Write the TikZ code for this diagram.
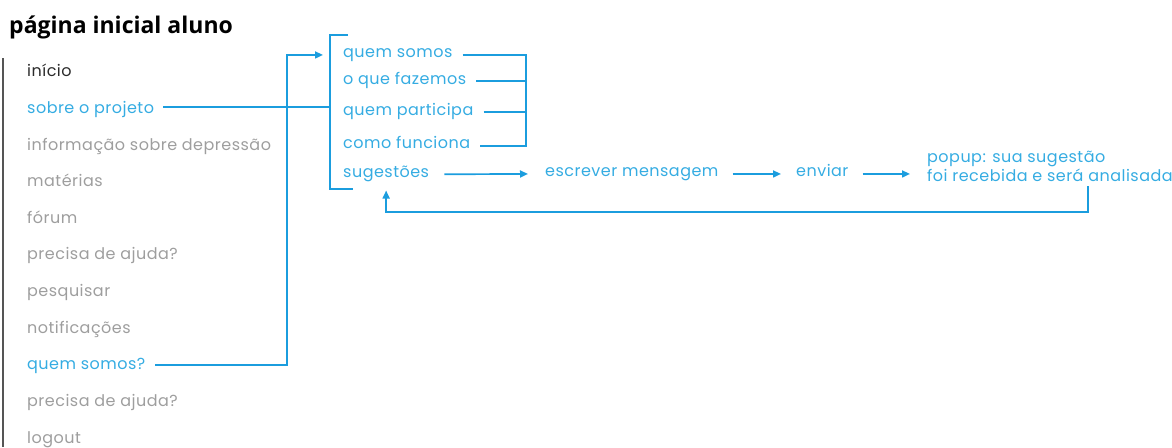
\documentclass[tikz,border=0pt]{standalone}
\usepackage{fontspec}
\setmainfont{Poppins}[LetterSpace=3]
\newfontfamily\titlefont{Open Sans}
\usetikzlibrary{arrows.meta,calc}
\definecolor{textblue}{HTML}{35ACE2}
\definecolor{lineblue}{HTML}{1B9DDE}
\definecolor{menugray}{HTML}{9E9E9E}
\definecolor{menudark}{HTML}{2B2B2B}
\definecolor{railgray}{HTML}{555555}

\begin{document}
\begin{tikzpicture}[x=1pt,y=-1pt,
  label/.style={anchor=base west,inner sep=0pt,font=\fontsize{16}{19}\selectfont},
  idle/.style={label,text=menugray},
  active/.style={label,text=textblue},
  link/.style={draw=lineblue,line width=1.7pt},
  flow/.style={link,-{Triangle[length=8pt,width=7pt]}},
]
\useasboundingbox (0,0) rectangle (1172,447);

% heading
\node[anchor=base west,inner sep=0pt,font=\titlefont\bfseries\fontsize{23}{27}\selectfont]
  (title) at (9,33) {página inicial aluno};

% menu rail
\draw[railgray,line width=1.2pt] (3,58) -- (3,447);

% main menu
\node[label,text=menudark] (m1) at (27,76.5) {início};
\node[active] (m2)  at (27,113)   {sobre o projeto};
\node[idle]   (m3)  at (27,150)   {informação sobre depressão};
\node[idle]   (m4)  at (27,186.5) {matérias};
\node[idle]   (m5)  at (27,223)   {fórum};
\node[idle]   (m6)  at (27,259.5) {precisa de ajuda?};
\node[idle]   (m7)  at (27,296.5) {pesquisar};
\node[idle]   (m8)  at (27,333)   {notificações};
\node[active] (m9)  at (27,369.5) {quem somos?};
\node[idle]   (m10) at (27,406)   {precisa de ajuda?};
\node[idle]   (m11) at (27,443)   {logout};

% "sobre o projeto" submenu
\node[active] (s1) at (343,57.7)  {quem somos};
\node[active] (s2) at (343,84)    {o que fazemos};
\node[active] (s3) at (343,115)   {quem participa};
\node[active] (s4) at (343,148.5) {como funciona};
\node[active] (s5) at (343,177)   {sugestões};

% suggestion flow
\node[active] (esc) at (545,176.7) {escrever mensagem};
\node[active] (env) at (796,176.7) {enviar};
\node[active] (pop1) at (927,162.7) {popup: sua sugestão};
\node[active] (pop2) at (927,181.7) {foi recebida e será analisada};

% guide coordinates
\coordinate (brt) at (330,35);
\coordinate (brb) at (330,189);
\coordinate (jx)  at (287,0);
\coordinate (rbx) at (526,0);
\coordinate (retx) at (1088,212);

% submenu bracket
\draw[link] ($(brt)+(18pt,0)$) -- (brt) -- (brb) -- ($(brb)+(23pt,0)$);

% sobre o projeto -> bracket
\draw[link] ([shift={(9pt,3pt)}]m2.mid east) coordinate (a0) -- (a0 -| brt);

% quem somos? -> quem somos
\draw[flow] ([shift={(10pt,2pt)}]m9.mid east) coordinate (q0) -- (q0 -| jx)
  -- (jx |- s1.mid) -- ([xshift=-20pt]s1.mid west);

% grouping bracket on the right
\draw[link] ([xshift=10pt]s1.mid east) -| (rbx |- s4.mid) -- ([xshift=10pt]s4.mid east);
\draw[link] ([xshift=10pt]s2.mid east) -- (rbx |- s2.mid);
\draw[link] ([xshift=10pt]s3.mid east) -- (rbx |- s3.mid);

% flow arrows
\draw[flow] ([xshift=15pt]s5.mid east) -- ([xshift=-17pt]esc.mid west);
\draw[flow] ([xshift=14pt]esc.mid east) -- ([xshift=-15pt]env.mid west);
\draw[flow] ([xshift=14pt]env.mid east) -- ($(pop1.west |- env.mid)+(-17pt,0)$);

% back to sugestões
\draw[flow] ($(retx |- pop2.south)+(0,-4pt)$) -- (retx) -| ([yshift=-9pt]s5.south);
\end{tikzpicture}
\end{document}
